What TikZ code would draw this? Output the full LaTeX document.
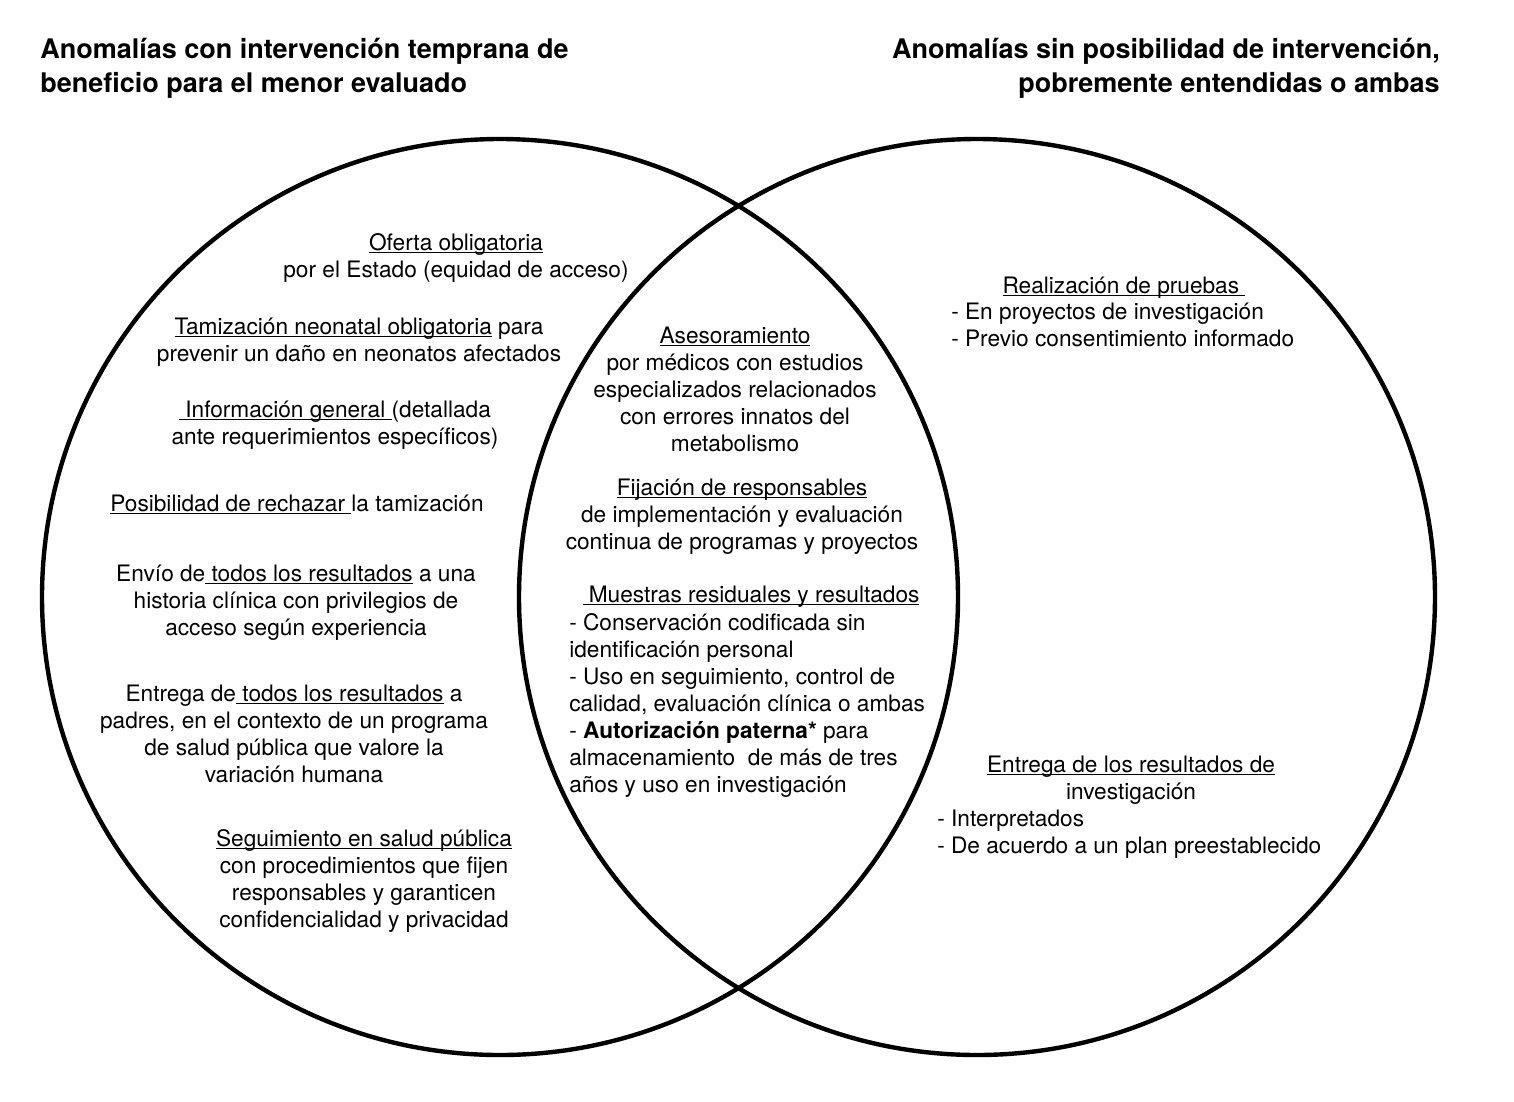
\documentclass[tikz,border=0pt]{standalone}
\usepackage{fontspec}
\setmainfont{TeX Gyre Heros}
\newsavebox\ulbox
\newcommand\ulx[1]{\sbox\ulbox{#1}\rlap{\rule[-2.4pt]{\wd\ulbox}{0.9pt}}\usebox\ulbox}
\begin{document}
\begin{tikzpicture}[x=0.75pt,y=-0.75pt,
  body/.style={font=\fontsize{17}{20.25}\selectfont, inner sep=0pt, align=center, anchor=base},
  lst/.style={font=\fontsize{17}{20.25}\selectfont, inner sep=0pt, align=left, anchor=base west},
  ttl/.style={font=\fontsize{20.25}{25.5}\selectfont\bfseries, inner sep=0pt},
  ring/.style={line width=3.3pt}]
\useasboundingbox (0,0) rectangle (1514,1101);
\fill[white] (0,0) rectangle (1514,1101);
\coordinate (cL) at (500,597);
\coordinate (cR) at (977,597);
\draw[ring] (cL) circle[radius=458];
\draw[ring] (cR) circle[radius=458];
% titles (anchor = baseline of last line)
\node[ttl, align=left, anchor=base west] (tL) at (40,92) {Anomalías con intervención temprana de\\beneficio para el menor evaluado};
\node[ttl, align=right, anchor=base east] (tR) at (1440,92) {Anomalías sin posibilidad de intervención,\\pobremente entendidas o ambas};
% left region
\node[body] (oferta) at (456,277) {\ulx{Oferta obligatoria}\\por el Estado (equidad de acceso)};
\node[body] (tamiz) at (359,361) {\ulx{Tamización neonatal obligatoria} para\\prevenir un daño en neonatos afectados};
\node[body] (info) at (335,444) {\ulx{\ Información general\ }(detallada\\ante requerimientos específicos)};
\node[body] (rechazo) at (297,511) {\ulx{Posibilidad de rechazar\ }la tamización};
\node[body] (envio) at (296,635) {Envío de\ulx{\ todos los resultados} a una\\historia clínica con privilegios de\\acceso según experiencia};
\node[body] (entrega) at (294,782) {Entrega de\ulx{\ todos los resultados} a\\padres, en el contexto de un programa\\de salud pública que valore la\\variación humana};
\node[body] (segui) at (364,927) {\ulx{Seguimiento en salud pública}\\con procedimientos que fijen\\responsables y garanticen\\confidencialidad y privacidad};
% middle region
\node[body] (aseso) at (735,451) {\ulx{Asesoramiento}\\por médicos con estudios\\especializados relacionados\\con errores innatos del\\metabolismo};
\node[body] (fija) at (742,549) {\ulx{Fijación de responsables}\\de implementación y evaluación\\continua de programas y proyectos};
\node[body] (muesH) at (751,602) {\ulx{\ Muestras residuales y resultados}};
\node[lst] (muesL) at (569,792) {- Conservación codificada sin\\identificación personal\\- Uso en seguimiento, control de\\calidad, evaluación clínica o ambas\\- \textbf{Autorización paterna*} para\\almacenamiento\ \ de más de tres\\años y uso en investigación};
% right region
\node[body] (realH) at (1124,293) {\ulx{Realización de pruebas\ }};
\node[lst] (realL) at (951,346) {- En proyectos de investigación\\- Previo consentimiento informado};
\node[body] (entrH) at (1131,799) {\ulx{Entrega de los resultados de}\\investigación};
\node[lst] (entrL) at (937,853) {- Interpretados\\- De acuerdo a un plan preestablecido};
\end{tikzpicture}
\end{document}
